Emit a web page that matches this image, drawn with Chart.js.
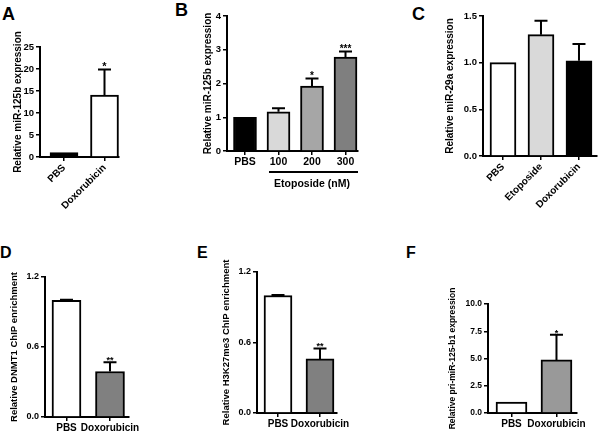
<!DOCTYPE html>
<html>
<head>
<meta charset="utf-8">
<script src="https://cdn.jsdelivr.net/npm/chart.js@4.4.1/dist/chart.umd.min.js"></script>
<style>
  body { margin: 0; background: #fff; width: 600px; height: 431px; position: relative; overflow: hidden;
         font-family: "Liberation Sans", Arial, sans-serif; }
  canvas { position: absolute; }
  .tag { position: absolute; font-weight: bold; line-height: 1; color: #000; }
</style>
</head>
<body>
<div class="tag" style="left:2px;top:5px;font-size:18px">A</div>
<div class="tag" style="left:175px;top:1px;font-size:18px">B</div>
<div class="tag" style="left:412px;top:5px;font-size:18px">C</div>
<div class="tag" style="left:0px;top:245px;font-size:16px">D</div>
<div class="tag" style="left:197px;top:245px;font-size:16px">E</div>
<div class="tag" style="left:406px;top:245px;font-size:16px">F</div>
<canvas id="cA"></canvas>
<canvas id="cB"></canvas>
<canvas id="cC"></canvas>
<canvas id="cD"></canvas>
<canvas id="cE"></canvas>
<canvas id="cF"></canvas>
<script>
// ── DATA ─────────────────────────────────────────────
const aCats = ['PBS', 'Doxorubicin'];
const aVals = [1.0, 14.1];
const aErr = [0, 5.8];
const aStars = ['', '*'];
const aTicks = [0, 5, 10, 15, 20, 25];

const bCats = ['PBS', '100', '200', '300'];
const bVals = [1.0, 1.16, 1.92, 2.78];
const bErr = [0, 0.11, 0.23, 0.17];
const bStars = ['', '', '*', '***'];
const bTicks = [0, 1, 2, 3, 4];

const cCats = ['PBS', 'Etoposide', 'Doxorubicin'];
const cVals = [1.0, 1.3, 1.02];
const cErr = [0, 0.15, 0.18];
const cStars = ['', '', ''];
const cTicks = [0, 0.5, 1.0, 1.5];

const dCats = ['PBS', 'Doxorubicin'];
const dVals = [1.0, 0.39];
const dErr = [0.005, 0.08];
const dStars = ['', '**'];
const dTicks = [0, 0.6, 1.2];

const eCats = ['PBS', 'Doxorubicin'];
const eVals = [1.0, 0.46];
const eErr = [0.005, 0.09];
const eStars = ['', '**'];
const eTicks = [0, 0.6, 1.2];

const fCats = ['PBS', 'Doxorubicin'];
const fVals = [1.0, 4.87];
const fErr = [0, 2.3];
const fStars = ['', '*'];
const fTicks = [0, 2.5, 5.0, 7.5, 10.0];

Chart.defaults.font.family = '"Liberation Sans", Arial, sans-serif';
Chart.defaults.font.weight = 'bold';
Chart.defaults.color = '#000';

// error bars, stars and the "Etoposide" bracket
const extras = {
  id: 'extras',
  afterDatasetsDraw(chart, args, o) {
    const ctx = chart.ctx, meta = chart.getDatasetMeta(0), ys = chart.scales.y;
    const ds = chart.data.datasets[0].data;
    ctx.save();
    ctx.strokeStyle = '#000';
    ctx.fillStyle = '#000';
    ctx.lineWidth = 2;
    ctx.font = 'bold ' + o.starSize + 'px "Liberation Sans", Arial';
    ctx.textAlign = 'center';
    ctx.textBaseline = 'alphabetic';
    meta.data.forEach((bar, i) => {
      const e = o.err[i];
      let top = bar.y;
      if (e > 0) {
        top = ys.getPixelForValue(ds[i].y + e);
        ctx.beginPath();
        ctx.moveTo(bar.x, bar.y);
        ctx.lineTo(bar.x, top);
        ctx.moveTo(bar.x - o.cap, top);
        ctx.lineTo(bar.x + o.cap, top);
        ctx.stroke();
      }
      if (o.stars[i]) ctx.fillText(o.stars[i], bar.x, top + o.starGap);
    });
    if (o.group) {
      const g = o.group, b0 = meta.data[g.from], b1 = meta.data[g.to];
      const yl = chart.chartArea.bottom + g.dy;
      ctx.lineWidth = 2;
      ctx.beginPath();
      ctx.moveTo(b0.x - b0.width / 2 + 2, yl);
      ctx.lineTo(b1.x + b1.width / 2 + 1, yl);
      ctx.stroke();
      ctx.font = 'bold 10.5px "Liberation Sans", Arial';
      ctx.textBaseline = 'middle';
      ctx.fillText(g.text, (b0.x + b1.x) / 2, yl + g.ty);
    }
    ctx.restore();
  }
};

// ── PANELS ───────────────────────────────────────────
// box: canvas left, top, width, height; area: plot left, top, right, bottom (page px)
const panels = [
  { id: 'cA', box: [12, 0, 115, 215], area: [40, 47, 119, 157], cats: aCats, vals: aVals, err: aErr, stars: aStars,
    ticks: aTicks, dec: 0, xr: [0.407, 2.358], bar: 28, colors: ['#000', '#fff'],
    title: 'Relative miR-125b expression', rot: 45, tickFont: 9.5, xFont: 10, titleFont: 10, starSize: 11 },
  { id: 'cB', box: [202, 0, 163, 200], area: [227, 16, 358, 151], cats: bCats, vals: bVals, err: bErr, stars: bStars,
    ticks: bTicks, dec: 0, xr: [0.463, 4.373], bar: 23, colors: ['#000', '#d9d9d9', '#a6a6a6', '#7f7f7f'],
    title: 'Relative miR-125b expression', rot: 0, tickFont: 9.5, xFont: 10.5, titleFont: 10, starSize: 10,
    group: { from: 1, to: 3, dy: 21, ty: 12, text: 'Etoposide (nM)' } },
  { id: 'cC', box: [444, 0, 156, 215], area: [483, 16, 597, 156], cats: cCats, vals: cVals, err: cErr, stars: cStars,
    ticks: cTicks, dec: 1, xr: [0.474, 3.474], bar: 26, colors: ['#fff', '#d9d9d9', '#000'],
    title: 'Relative miR-29a expression', rot: 45, tickFont: 9.5, xFont: 10, titleFont: 10, starSize: 10 },
  { id: 'cD', box: [9, 262, 145, 169], area: [45, 277, 129, 417], cats: dCats, vals: dVals, err: dErr, stars: dStars,
    ticks: dTicks, dec: 1, xr: [0.506, 2.437], bar: 29, colors: ['#fff', '#808080'],
    title: 'Relative DNMT1 ChIP enrichment', rot: 0, tickFont: 9, xFont: 10, titleFont: 9.5, starSize: 9 },
  { id: 'cE', box: [221, 240, 140, 191], area: [257, 272, 337, 413], cats: eCats, vals: eVals, err: eErr, stars: eStars,
    ticks: eTicks, dec: 1, xr: [0.5, 2.405], bar: 28, colors: ['#fff', '#808080'],
    title: 'Relative H3K27me3 ChIP enrichment', rot: 0, tickFont: 9, xFont: 10, titleFont: 9.5, starSize: 9 },
  { id: 'cF', box: [448, 268, 152, 163], area: [488, 304, 577, 413], cats: fCats, vals: fVals, err: fErr, stars: fStars,
    ticks: fTicks, dec: 1, xr: [0.478, 2.456], bar: 31, colors: ['#fff', '#999999'],
    title: 'Relative pri-miR-125-b1 expression', rot: 0, tickFont: 8.5, xFont: 10, titleFont: 8.5, starSize: 9 }
];

panels.forEach(p => {
  const [bx, by, bw, bh] = p.box;
  const [al, at, ar, ab] = p.area;
  const cv = document.getElementById(p.id);
  cv.width = bw; cv.height = bh;
  cv.style.left = bx + 'px'; cv.style.top = by + 'px';
  const yw = al - bx, xh = by + bh - ab;
  const axisBorder = { display: true, color: '#000', width: 2 };

  new Chart(cv, {
    type: 'bar',
    data: {
      datasets: [{
        data: p.vals.map((v, i) => ({ x: i + 1, y: v })),
        backgroundColor: p.colors,
        borderColor: '#000',
        borderWidth: 2,
        borderSkipped: 'start',
        barThickness: p.bar
      }]
    },
    options: {
      responsive: false,
      animation: false,
      devicePixelRatio: 1,
      layout: { padding: { top: at - by, right: bx + bw - ar, left: 0, bottom: 0 } },
      plugins: {
        legend: { display: false },
        tooltip: { enabled: false },
        extras: { err: p.err, stars: p.stars, cap: 6.5, starGap: 1, starSize: p.starSize, group: p.group }
      },
      scales: {
        x: {
          type: 'linear', min: p.xr[0], max: p.xr[1], offset: false,
          grid: { display: true, offset: false, drawOnChartArea: false, drawTicks: true, tickLength: 4, color: '#000', lineWidth: 1.5 },
          border: axisBorder,
          afterBuildTicks: s => { s.ticks = p.cats.map((c, i) => ({ value: i + 1 })); },
          afterFit: s => { s.height = xh; s.paddingLeft = 0; s.paddingRight = 0; },
          ticks: {
            autoSkip: false, padding: 1, minRotation: p.rot, maxRotation: p.rot,
            font: { size: p.xFont, weight: 'bold' },
            callback: v => p.cats[Math.round(v) - 1]
          }
        },
        y: {
          min: p.ticks[0], max: p.ticks[p.ticks.length - 1],
          grid: { display: true, drawOnChartArea: false, drawTicks: true, tickLength: 4, color: '#000', lineWidth: 1.5 },
          border: axisBorder,
          afterBuildTicks: s => { s.ticks = p.ticks.map(v => ({ value: v })); },
          afterFit: s => { s.width = yw; s.paddingTop = 0; s.paddingBottom = 0; },
          ticks: { padding: 2, font: { size: p.tickFont, weight: 'bold' }, callback: v => v.toFixed(p.dec) },
          title: { display: true, text: p.title, padding: 0, font: { size: p.titleFont, weight: 'bold' } }
        }
      }
    },
    plugins: [extras]
  });
});
</script>
</body>
</html>
